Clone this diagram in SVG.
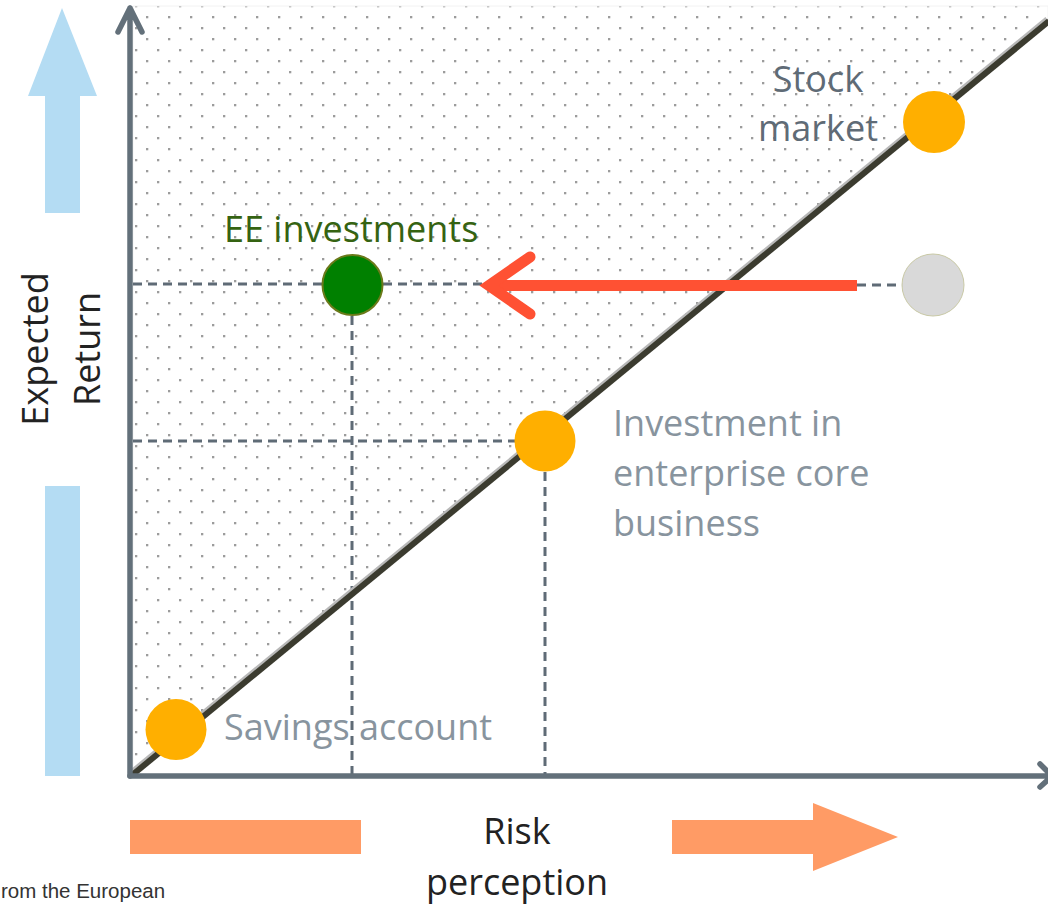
<svg xmlns="http://www.w3.org/2000/svg" width="1048" height="907" viewBox="0 0 1048 907">
<style>
.t{font-family:"Open Sans","Liberation Sans",sans-serif;font-size:36px}
.lab{fill:#88949e}
.axis{stroke:#63707a;stroke-width:5.5;fill:none;stroke-linecap:round;stroke-linejoin:round}
.dash{stroke:#5f6b76;stroke-width:3;stroke-dasharray:9 6;fill:none}
.orange{fill:#ffaf00}
</style>
<defs>
<pattern id="dots" patternUnits="userSpaceOnUse" x="0" y="0" width="22" height="22">
<rect x="14" y="16" width="2.3" height="2.3" fill="#9c9c9c"/>
<rect x="3" y="5" width="2.3" height="2.3" fill="#9c9c9c"/>
</pattern>
</defs>
<rect width="1048" height="907" fill="#ffffff"/>
<g id="zone">
<polygon points="133,6 1048,6 1048,22 133,774" fill="url(#dots)" stroke="#f2f2f2" stroke-width="1"/>
</g>
<g id="return-arrows">
<polygon points="45,213 45,96 28,96 62,8 97,96 80,96 80,213" fill="#b4dcf3"/>
<rect x="45" y="486" width="35" height="290" fill="#b4dcf3"/>
</g>
<g id="risk-arrows">
<rect x="130" y="820" width="231" height="34" fill="#ff9b65"/>
<polygon points="672,820 813,820 813,803 898,837 813,871 813,854 672,854" fill="#ff9b65"/>
</g>
<g id="connectors">
<line x1="133" y1="284" x2="322" y2="284" class="dash"/>
<line x1="383" y1="284" x2="490" y2="284" class="dash"/>
<line x1="857" y1="285" x2="903" y2="285" class="dash"/>
<line x1="352" y1="316" x2="352" y2="774" class="dash"/>
<line x1="133" y1="441" x2="515" y2="441" class="dash"/>
<line x1="545" y1="472" x2="545" y2="774" class="dash"/>
<line x1="129" y1="774" x2="1047" y2="19" stroke="#b8b8b8" stroke-width="5"/>
<line x1="131" y1="776" x2="1049" y2="21" stroke="#3b3b2f" stroke-width="6"/>
<path d="M130,776 V8 M118,32 L130,8 L142,32" class="axis"/>
<path d="M130,776 H1052 M1040,764 L1052,776 L1040,787" class="axis"/>
<path d="M857,285.5 H492" stroke="#ff5133" stroke-width="11" fill="none"/>
<path d="M530,257 L489,285.5 L530,314" stroke="#ff5133" stroke-width="11" fill="none" stroke-linecap="round" stroke-linejoin="miter"/>
</g>
<g id="savings">
<circle cx="176" cy="729.5" r="30.5" class="orange"/>
<text x="224" y="740" class="t lab">Savings account</text>
</g>
<g id="core-business">
<circle cx="545" cy="441" r="30.5" class="orange"/>
<text class="t lab"><tspan x="613" y="436">Investment in</tspan><tspan x="613" y="486">enterprise core</tspan><tspan x="613" y="536">business</tspan></text>
</g>
<g id="stock-market">
<circle cx="934" cy="122" r="31" class="orange"/>
<text class="t" fill="#5f6b76" text-anchor="middle"><tspan x="818" y="92">Stock</tspan><tspan x="818" y="141">market</tspan></text>
</g>
<g id="ee-investments">
<circle cx="352.5" cy="285" r="30" fill="#008000" stroke="#6b7a1a" stroke-width="2"/>
<text x="224" y="242" class="t" fill="#356312">EE investments</text>
</g>
<g id="previous-position">
<circle cx="933" cy="285" r="31" fill="#d9d9d9" stroke="#c9c9a6" stroke-width="1"/>
</g>
<g id="y-label">
<text class="t" fill="#222222" text-anchor="middle" transform="translate(48,349) rotate(-90)"><tspan x="0" y="0">Expected</tspan><tspan x="0" y="52">Return</tspan></text>
</g>
<g id="x-label">
<text class="t" fill="#222222" text-anchor="middle"><tspan x="517" y="844">Risk</tspan><tspan x="517" y="895">perception</tspan></text>
</g>
<text x="1" y="898" font-family="'Liberation Sans',Arial,sans-serif" font-size="20.5" fill="#333333">rom the European</text>
</svg>
